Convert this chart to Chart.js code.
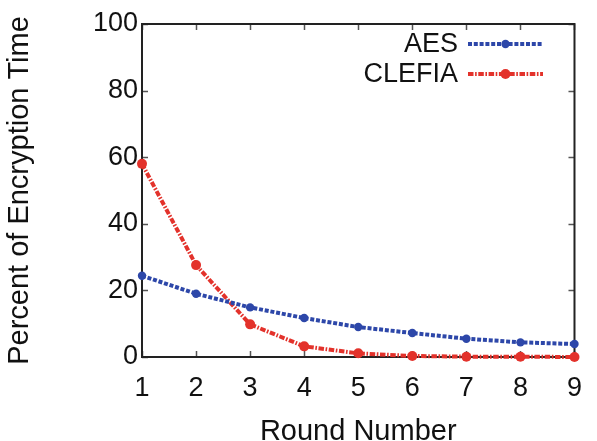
<!DOCTYPE html>
<html>
<head>
<meta charset="utf-8">
<script src="https://cdn.jsdelivr.net/npm/chart.js@4/dist/chart.umd.min.js"></script>
<style>
  html, body { margin: 0; padding: 0; background: #ffffff; }
  #wrap { width: 597px; height: 441px; position: relative; }
</style>
</head>
<body>
<div id="wrap"><canvas id="chart" width="597" height="441"></canvas></div>
<script>
// Round numbers on the x axis
const rounds = ['1', '2', '3', '4', '5', '6', '7', '8', '9'];
// Share of total encryption time spent in each round (%)
const aesPercent = [24.4, 19.0, 14.9, 11.7, 9.0, 7.2, 5.5, 4.4, 3.9];
const clefiaPercent = [58.0, 27.6, 9.8, 3.2, 1.1, 0.3, 0.1, 0.1, 0.0];
// Y axis ticks
const yTicks = [0, 20, 40, 60, 80, 100];

const FONT = '"Liberation Sans", Arial, Helvetica, sans-serif';
const BLUE = '#2d47a9';
const RED = '#e3322b';

// Closed frame with short inward tick marks on all four sides
const framePlugin = {
  id: 'frame',
  beforeDatasetsDraw(chart) {
    const { ctx, chartArea: a, scales } = chart;
    ctx.save();
    ctx.strokeStyle = '#555';
    ctx.lineWidth = 1.5;
    const tl = 6;
    ctx.beginPath();
    scales.x.ticks.forEach((t, i) => {
      const px = Math.round(scales.x.getPixelForTick(i)) + 0.5;
      ctx.moveTo(px, a.bottom); ctx.lineTo(px, a.bottom - tl);
      ctx.moveTo(px, a.top); ctx.lineTo(px, a.top + tl);
    });
    yTicks.forEach(v => {
      const py = Math.round(scales.y.getPixelForValue(v)) + 0.5;
      ctx.moveTo(a.left, py); ctx.lineTo(a.left + tl, py);
      ctx.moveTo(a.right, py); ctx.lineTo(a.right - tl, py);
    });
    ctx.stroke();
    ctx.strokeStyle = '#222';
    ctx.lineWidth = 2;
    ctx.strokeRect(a.left, a.top, a.right - a.left, a.bottom - a.top);
    ctx.restore();
  }
};

// Legend in the upper right: label, then a line sample with its marker
const legendPlugin = {
  id: 'lineLegend',
  afterDatasetsDraw(chart) {
    const { ctx } = chart;
    const textRight = 458, x0 = 468, x1 = 543, rows = [44, 74];
    ctx.save();
    chart.data.datasets.forEach((ds, i) => {
      const y = rows[i];
      ctx.font = '27px ' + FONT;
      ctx.fillStyle = '#111';
      ctx.textAlign = 'right';
      ctx.textBaseline = 'middle';
      ctx.fillText(ds.label, textRight, y + 1);
      ctx.strokeStyle = ds.borderColor;
      ctx.lineWidth = ds.borderWidth;
      ctx.setLineDash(ds.borderDash);
      ctx.beginPath();
      ctx.moveTo(x0, y); ctx.lineTo(x1, y);
      ctx.stroke();
      ctx.setLineDash([]);
      ctx.fillStyle = ds.pointBackgroundColor;
      ctx.beginPath();
      ctx.arc((x0 + x1) / 2, y, ds.pointRadius, 0, Math.PI * 2);
      ctx.fill();
    });
    ctx.restore();
  }
};

new Chart(document.getElementById('chart'), {
  type: 'line',
  data: {
    labels: rounds,
    datasets: [
      {
        label: 'AES',
        data: aesPercent,
        borderColor: BLUE,
        backgroundColor: BLUE,
        pointBackgroundColor: BLUE,
        pointBorderColor: BLUE,
        borderWidth: 4,
        borderDash: [4, 1.8],
        pointRadius: 4.2,
        pointBorderWidth: 0,
        tension: 0,
        clip: false
      },
      {
        label: 'CLEFIA',
        data: clefiaPercent,
        borderColor: RED,
        backgroundColor: RED,
        pointBackgroundColor: RED,
        pointBorderColor: RED,
        borderWidth: 4,
        borderDash: [5.5, 1.6, 1.6, 1.6],
        pointRadius: 5,
        pointBorderWidth: 0,
        tension: 0,
        clip: false
      }
    ]
  },
  options: {
    responsive: false,
    animation: false,
    devicePixelRatio: 1,
    layout: { padding: { top: 24, right: 17, bottom: 0, left: 0 } },
    plugins: {
      legend: { display: false },
      tooltip: { enabled: false }
    },
    scales: {
      x: {
        type: 'category',
        offset: false,
        grid: { display: true, drawOnChartArea: false, drawTicks: false },
        border: { display: false },
        ticks: {
          color: '#111',
          padding: 15,
          maxRotation: 0,
          font: { family: FONT, size: 27, lineHeight: 1.2 }
        },
        title: {
          display: true,
          text: 'Round Number',
          color: '#111',
          font: { family: FONT, size: 29, lineHeight: 1.2 },
          padding: { top: 0, bottom: -8 }
        },
        afterFit(scale) { scale.height = 84; }
      },
      y: {
        min: 0,
        max: 100,
        grid: { display: true, drawOnChartArea: false, drawTicks: false },
        border: { display: false },
        afterBuildTicks(scale) { scale.ticks = yTicks.map(v => ({ value: v })); },
        ticks: {
          color: '#111',
          padding: 4,
          font: { family: FONT, size: 27, lineHeight: 1.2 }
        },
        title: {
          display: true,
          text: 'Percent of Encryption Time',
          color: '#111',
          font: { family: FONT, size: 29, lineHeight: 1.2 },
          padding: { top: 3, bottom: 0 }
        },
        afterFit(scale) { scale.width = 142; }
      }
    }
  },
  plugins: [framePlugin, legendPlugin]
});
</script>
</body>
</html>
